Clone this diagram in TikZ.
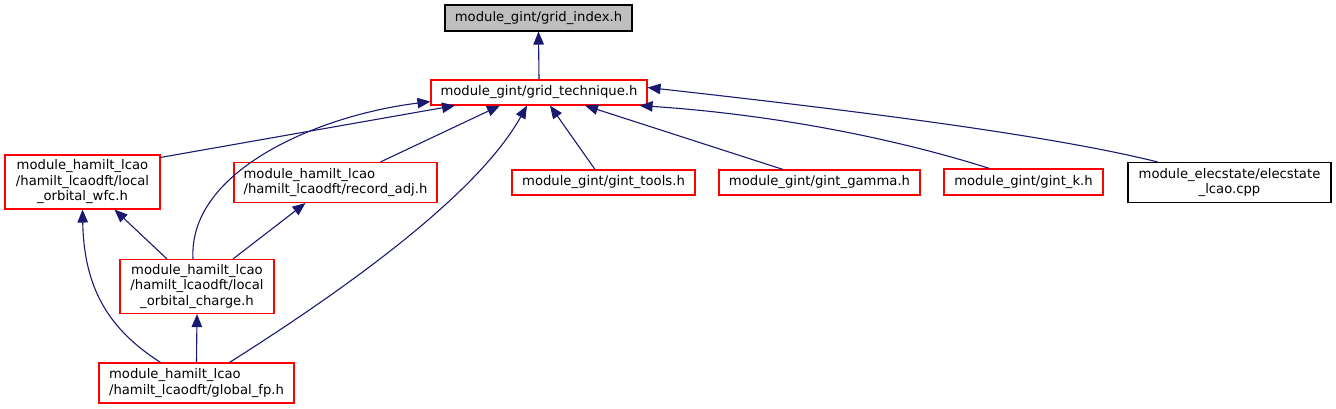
\documentclass[tikz,border=0pt]{standalone}
\usepackage{fontspec}
\setmainfont{DejaVu Sans}
\usetikzlibrary{arrows.meta}
\definecolor{edgeblue}{RGB}{25,25,112}
\definecolor{filered}{RGB}{255,0,0}

\begin{document}
\begin{tikzpicture}[x=1pt,y=-1pt,
  file/.style={draw=filered, line width=1.1pt, fill=white, inner sep=0pt, align=center,
    font=\fontsize{13.2}{15.5}\selectfont},
  dep/.style={edgeblue, line width=1.1pt, -{Triangle[length=13pt,width=10.5pt]}}]

\useasboundingbox (0,0) rectangle (1336,409);

% nodes
\node[file, draw=black, fill=black!25, minimum width=187pt, minimum height=26pt] (idx) at (538.5,18) {module\_gint/grid\_index.h};
\node[file, minimum width=216pt, minimum height=25pt] (tech) at (539,92.5) {module\_gint/grid\_technique.h};

\node[file, minimum width=155pt, minimum height=54pt] (wfc) at (82.5,182) {module\_hamilt\_lcao\\/hamilt\_lcaodft/local\\\_orbital\_wfc.h};
\node[file, align=left, minimum width=203pt, minimum height=40pt] (adj) at (335.5,182.5) {module\_hamilt\_lcao\\/hamilt\_lcaodft/record\_adj.h};
\node[file, minimum width=183pt, minimum height=25pt] (tools) at (603.5,182.5) {module\_gint/gint\_tools.h};
\node[file, minimum width=201pt, minimum height=25pt] (gamma) at (819.5,182.5) {module\_gint/gint\_gamma.h};
\node[file, minimum width=159pt, minimum height=26pt] (gk) at (1023.5,182) {module\_gint/gint\_k.h};
\node[file, draw=black, minimum width=203pt, minimum height=40pt] (elec) at (1229.5,182.5) {module\_elecstate/elecstate\\\_lcao.cpp};

\node[file, minimum width=154pt, minimum height=54pt] (charge) at (197,286.5) {module\_hamilt\_lcao\\/hamilt\_lcaodft/local\\\_orbital\_charge.h};
\node[file, align=left, minimum width=195pt, minimum height=40pt] (fp) at (196.5,383) {module\_hamilt\_lcao\\/hamilt\_lcaodft/global\_fp.h};

% edges
\draw[dep] (tech.north) -- (idx.south);

\draw[dep] ([yshift=-3pt]wfc.north east) -- ([xshift=-84pt]tech.south);
\draw[dep] ([xshift=45pt]adj.north) -- ([xshift=-39pt]tech.south);
\draw[dep] ([xshift=-8.5pt]tools.north) -- ([xshift=11pt]tech.south);
\draw[dep] ([xshift=-36.5pt]gamma.north) -- ([xshift=46pt]tech.south);
\draw[dep] ([xshift=-34pt]gk.north) .. controls (900,140) and (780,115) .. ([xshift=-8pt]tech.south east);
\draw[dep] ([xshift=-72pt]elec.north) .. controls (1050,135) and (850,110) .. ([yshift=5pt]tech.east);

\draw[dep] ([xshift=-4pt]charge.north) .. controls (188,170) and (320,115) .. ([yshift=4pt]tech.south west);
\draw[dep] ([xshift=-30pt]charge.north) -- ([xshift=32pt]wfc.south);
\draw[dep] ([xshift=36pt]charge.north) -- ([xshift=-30pt]adj.south);

\draw[dep] ([xshift=33pt]fp.north) .. controls (360,280) and (480,190) .. ([xshift=-12pt]tech.south);
\draw[dep] ([xshift=-36pt]fp.north) .. controls (110,330) and (84,290) .. (wfc.south);
\draw[dep] (fp.north) -- (charge.south);

\end{tikzpicture}
\end{document}
